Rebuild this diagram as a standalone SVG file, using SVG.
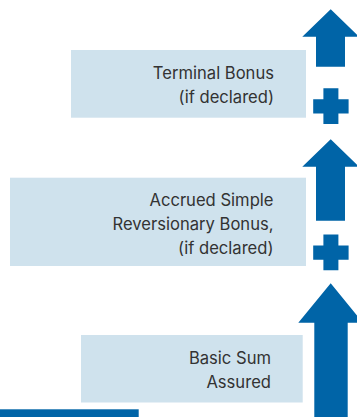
<svg xmlns="http://www.w3.org/2000/svg" width="357" height="417" viewBox="0 0 357 417">
  <style>
    .box { fill: #cfe2ed; }
    .blue { fill: #0064a7; }
    .label { font-family: Inter, "Liberation Sans", Arial, sans-serif; font-size: 16.6px; fill: #333333; text-anchor: end; }
  </style>
  <defs>
    <!-- plus sign, centred on origin -->
    <path id="plus" d="M-7.5,-17.5 H7.5 V-6.5 H17.7 V7.8 H7.5 V18.2 H-7.5 V7.8 H-17.7 V-6.5 H-7.5 Z"/>
  </defs>
  <rect width="357" height="417" fill="#ffffff"/>

  <g id="terminal-bonus">
    <rect class="box" x="71" y="50" width="235" height="67.7"/>
    <text class="label" x="274" y="79.3">Terminal Bonus</text>
    <text class="label" x="274" y="103.3">(if declared)</text>
  </g>

  <g id="reversionary-bonus">
    <rect class="box" x="10" y="177.7" width="296" height="88.3"/>
    <text class="label" x="273.5" y="206">Accrued Simple</text>
    <text class="label" x="273.5" y="230">Reversionary Bonus,</text>
    <text class="label" x="273.5" y="254">(if declared)</text>
  </g>

  <g id="basic-sum-assured">
    <rect class="box" x="81" y="335" width="221.7" height="67.5"/>
    <text class="label" x="271" y="364.3">Basic Sum</text>
    <text class="label" x="271" y="388.3">Assured</text>
  </g>

  <g id="connectors">
    <!-- upward arrows -->
    <path class="blue" d="M330.7,9.3 L359,36.7 H345 V66.7 H316 V36.7 H302.3 Z"/>
    <path class="blue" d="M330.7,139.3 L359,166.7 H345 V220.7 H316 V166.7 H302.3 Z"/>
    <path class="blue" d="M330.7,283.3 L363,322.7 H347.7 V417 H314.3 V322.7 H298.3 Z"/>
    <!-- plus signs -->
    <use class="blue" href="#plus" x="330.9" y="105.8"/>
    <use class="blue" href="#plus" x="330.9" y="252"/>
    <!-- baseline bar -->
    <rect class="blue" x="0" y="409.3" width="138.7" height="7.7"/>
  </g>
</svg>
